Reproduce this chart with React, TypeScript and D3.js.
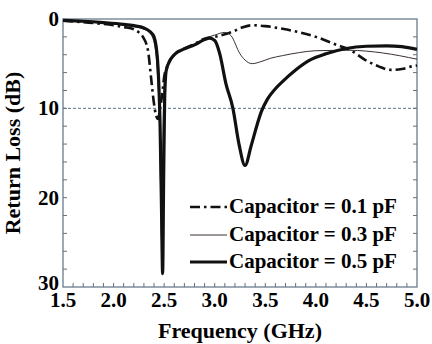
import { useEffect, useRef } from 'react';
import * as d3 from 'd3';

// Capacitor = 0.1 pF (dash-dot)
const freq01 = [1.5, 1.8, 2.0, 2.1, 2.2, 2.25, 2.29, 2.34, 2.37, 2.40, 2.42, 2.44, 2.46, 2.48, 2.50, 2.53, 2.6, 2.7, 2.8, 2.9, 3.0, 3.1, 3.18, 3.27, 3.37, 3.5, 3.67, 3.84, 4.0, 4.23, 4.33, 4.49, 4.62, 4.74, 4.85, 4.95, 5.0];
const rl01 = [0.2, 0.45, 0.7, 0.9, 1.15, 1.5, 2.0, 3.5, 6.5, 9.5, 10.8, 11.2, 10.0, 8.5, 6.5, 5.3, 4.0, 3.3, 2.8, 2.2, 2.0, 1.7, 1.4, 0.95, 0.7, 0.8, 1.1, 1.5, 2.0, 3.0, 3.4, 4.6, 5.3, 5.7, 5.6, 5.3, 5.2];

// Capacitor = 0.3 pF (thin)
const freq03 = [1.5, 1.9, 2.1, 2.2, 2.3, 2.36, 2.40, 2.43, 2.455, 2.475, 2.49, 2.50, 2.52, 2.6, 2.7, 2.8, 2.9, 3.0, 3.1, 3.16, 3.25, 3.3, 3.37, 3.45, 3.55, 3.67, 3.84, 4.0, 4.33, 4.66, 5.0];
const rl03 = [0.15, 0.45, 0.7, 0.85, 1.15, 1.6, 2.6, 5.5, 12, 25, 12, 7.5, 5.5, 3.9, 3.3, 2.8, 2.2, 1.8, 1.5, 1.85, 3.9, 4.6, 5.0, 4.8, 4.4, 4.1, 3.75, 3.55, 3.5, 3.8, 4.5];

// Capacitor = 0.5 pF (thick)
const freq05 = [1.5, 1.7, 1.9, 2.1, 2.2, 2.3, 2.36, 2.40, 2.42, 2.44, 2.46, 2.475, 2.485, 2.495, 2.505, 2.52, 2.56, 2.6, 2.7, 2.8, 2.9, 2.95, 3.0, 3.05, 3.11, 3.18, 3.24, 3.3, 3.36, 3.42, 3.46, 3.52, 3.6, 3.67, 3.8, 3.94, 4.1, 4.3, 4.5, 4.7, 4.85, 5.0];
const rl05 = [0.15, 0.25, 0.4, 0.6, 0.75, 1.0, 1.4, 2.0, 3.0, 5.5, 12, 22, 28.5, 18, 9, 5.8, 4.6, 4.0, 3.35, 2.9, 2.3, 2.15, 2.4, 3.9, 7.2, 10.0, 14.0, 16.4, 14.2, 11.8, 10.4, 9.0, 7.8, 7.0, 5.7, 4.6, 3.9, 3.3, 3.05, 3.0, 3.1, 3.4];

const xTicks = [1.5, 2.0, 2.5, 3.0, 3.5, 4.0, 4.5, 5.0];
const yTicks = [0, 10, 20, 30];
const legendLabels = ['Capacitor = 0.1 pF', 'Capacitor = 0.3 pF', 'Capacitor = 0.5 pF'];

export default function App() {
  const svgRef = useRef<SVGSVGElement>(null);

  useEffect(() => {
    const width = 432;
    const height = 344;
    const font = 'Liberation Serif, Times New Roman, DejaVu Serif, serif';
    const axisColor = '#5d7284';

    const svg = d3.select(svgRef.current);
    svg.selectAll('*').remove();
    svg.attr('width', width).attr('height', height)
      .style('font-family', font)
      .style('font-weight', 'bold');

    svg.append('rect').attr('width', width).attr('height', height).attr('fill', 'white');

    const x = d3.scaleLinear().domain([1.5, 5.0]).range([63, 417]);
    const y = d3.scaleLinear().domain([0, 30]).range([19, 287]);

    // 10 dB reference line
    svg.append('line')
      .attr('x1', x(1.5)).attr('x2', x(5.0))
      .attr('y1', y(10)).attr('y2', y(10))
      .attr('stroke', axisColor)
      .attr('stroke-width', 1)
      .attr('stroke-dasharray', '3,2');

    // Frame
    svg.append('rect')
      .attr('x', x(1.5)).attr('y', y(0))
      .attr('width', x(5.0) - x(1.5)).attr('height', y(30) - y(0))
      .attr('fill', 'none')
      .attr('stroke', axisColor)
      .attr('stroke-width', 1.2);

    // Inner ticks
    const minorY = d3.range(2, 30, 2);
    minorY.forEach(v => {
      svg.append('line').attr('x1', x(1.5)).attr('x2', x(1.5) + 4)
        .attr('y1', y(v)).attr('y2', y(v)).attr('stroke', axisColor);
      svg.append('line').attr('x1', x(5.0)).attr('x2', x(5.0) - 4)
        .attr('y1', y(v)).attr('y2', y(v)).attr('stroke', axisColor);
    });
    const minorX = d3.range(16, 50, 1).map(d => d / 10);
    minorX.forEach(v => {
      svg.append('line').attr('x1', x(v)).attr('x2', x(v))
        .attr('y1', y(30)).attr('y2', y(30) - 4).attr('stroke', axisColor);
    });

    // Tick labels
    svg.append('g').selectAll('text').data(xTicks).enter().append('text')
      .attr('x', d => x(d)).attr('y', y(30) + 20)
      .attr('text-anchor', 'middle')
      .style('font-size', '21px')
      .text(d => d.toFixed(1));

    svg.append('g').selectAll('text').data(yTicks).enter().append('text')
      .attr('x', x(1.5) - 4).attr('y', d => y(d) + (d === 30 ? 3 : 7))
      .attr('text-anchor', 'end')
      .style('font-size', '21px')
      .text(d => d);

    // Axis titles
    svg.append('text')
      .attr('x', 240).attr('y', 338)
      .attr('text-anchor', 'middle')
      .style('font-size', '22px')
      .text('Frequency (GHz)');

    svg.append('text')
      .attr('transform', `translate(20,${(y(0) + y(30)) / 2}) rotate(-90)`)
      .attr('text-anchor', 'middle')
      .style('font-size', '22px')
      .text('Return Loss (dB)');

    // Curves
    const series = [
      { f: freq01, r: rl01, width: 2.6, dash: '10,4,2.5,4', color: '#111' },
      { f: freq03, r: rl03, width: 1, dash: null, color: '#3a3030' },
      { f: freq05, r: rl05, width: 3.2, dash: null, color: '#111' },
    ];

    const line = d3.line<[number, number]>()
      .x(d => x(d[0]))
      .y(d => y(d[1]))
      .curve(d3.curveMonotoneX);

    series.forEach(s => {
      const pts = s.f.map((f, i) => [f, s.r[i]] as [number, number]);
      svg.append('path')
        .datum(pts)
        .attr('fill', 'none')
        .attr('stroke', s.color)
        .attr('stroke-width', s.width)
        .attr('stroke-linejoin', 'round')
        .attr('stroke-dasharray', s.dash)
        .attr('d', line);
    });

    // Legend
    const legendY = [207, 235, 262];
    series.forEach((s, i) => {
      svg.append('line')
        .attr('x1', 190).attr('x2', 227)
        .attr('y1', legendY[i]).attr('y2', legendY[i])
        .attr('stroke', s.color)
        .attr('stroke-width', s.width)
        .attr('stroke-dasharray', s.dash);
      svg.append('text')
        .attr('x', 229).attr('y', legendY[i] + 6)
        .style('font-size', '21px')
        .text(legendLabels[i]);
    });
  }, []);

  return (
    <div style={{ position: 'absolute', left: 0, top: 0 }}>
      <svg ref={svgRef} style={{ display: 'block' }}></svg>
    </div>
  );
}
